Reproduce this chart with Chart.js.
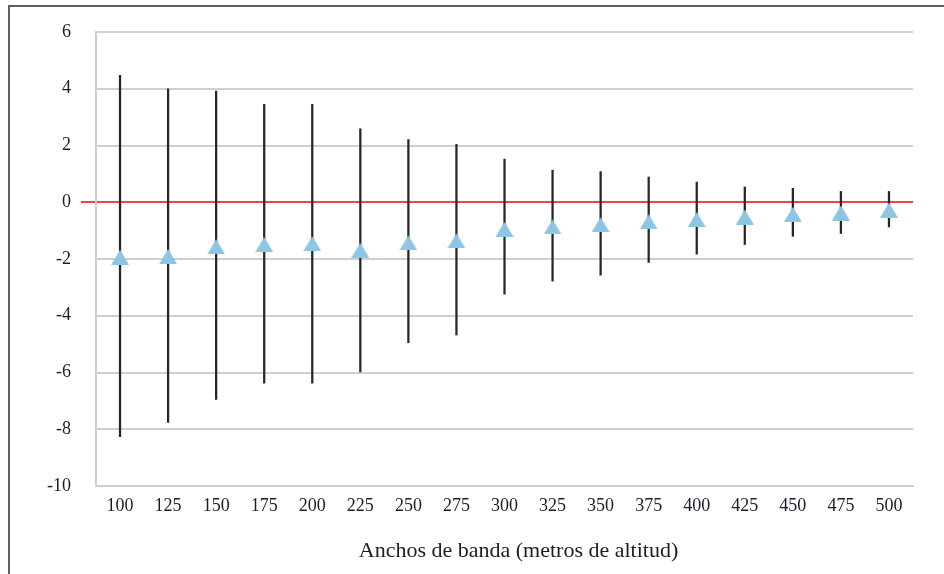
<!DOCTYPE html>
<html>
<head>
<meta charset="utf-8">
<script src="https://cdn.jsdelivr.net/npm/chart.js@4/dist/chart.umd.min.js"></script>
<style>
  html, body { margin: 0; padding: 0; background: #fff; overflow: hidden; }
  #wrap { position: relative; width: 944px; height: 574px; }
  #frame { position: absolute; left: 8px; top: 5px; width: 2000px; height: 2000px;
           border-left: 2px solid #5e5e5e; border-top: 2px solid #5e5e5e; pointer-events: none; }
</style>
</head>
<body>
<div id="wrap">
  <canvas id="c" width="944" height="574"></canvas>
  <div id="frame"></div>
</div>
<script>
const categories = ['100','125','150','175','200','225','250','275','300','325','350','375','400','425','450','475','500'];
const meanValues = [-1.94, -1.91, -1.57, -1.49, -1.46, -1.69, -1.43, -1.36, -0.95, -0.87, -0.79, -0.69, -0.61, -0.52, -0.43, -0.38, -0.28];
const upperValues = [4.47, 4.00, 3.92, 3.45, 3.45, 2.59, 2.21, 2.04, 1.52, 1.13, 1.08, 0.89, 0.71, 0.54, 0.49, 0.38, 0.38];
const lowerValues = [-8.26, -7.76, -6.95, -6.38, -6.38, -5.98, -4.95, -4.68, -3.24, -2.78, -2.57, -2.12, -1.83, -1.49, -1.20, -1.10, -0.87];
const yTicks = { min: -10, max: 6, step: 2 };
const xTitle = 'Anchos de banda (metros de altitud)';

const FONT = "'Liberation Serif', 'DejaVu Serif', serif";
const TEXT = '#1c1c28';
const rangeData = lowerValues.map((lo, i) => [lo, upperValues[i]]);

// triangle marker centred on its bounding box
const tri = document.createElement('canvas');
tri.width = 18; tri.height = 15;
(function () {
  const g = tri.getContext('2d');
  g.fillStyle = '#8ec5e3';
  g.beginPath();
  g.moveTo(9, 0); g.lineTo(18, 15); g.lineTo(0, 15); g.closePath();
  g.fill();
})();

const xTitlePlugin = {
  id: 'xTitlePlugin',
  afterDraw(chart) {
    const g = chart.ctx;
    g.save();
    g.font = '22px ' + FONT;
    g.fillStyle = TEXT;
    g.textAlign = 'center';
    g.textBaseline = 'middle';
    g.fillText(xTitle, chart.chartArea.left + (chart.chartArea.right - chart.chartArea.left) / 2 + 14, 551);
    g.restore();
  }
};

new Chart(document.getElementById('c'), {
  data: {
    labels: categories,
    datasets: [
      {
        type: 'line',
        data: meanValues,
        showLine: false,
        pointStyle: tri,
        pointRadius: 9,
        pointHoverRadius: 9,
        order: 0
      },
      {
        type: 'bar',
        data: rangeData,
        backgroundColor: '#262626',
        borderWidth: 0,
        barThickness: 1.6,
        grouped: false,
        order: 1
      }
    ]
  },
  plugins: [xTitlePlugin],
  options: {
    responsive: false,
    animation: false,
    events: [],
    layout: { padding: { left: 0, right: 31, top: 32, bottom: 0 } },
    plugins: { legend: { display: false }, tooltip: { enabled: false } },
    scales: {
      x: {
        type: 'category',
        offset: true,
        grid: { display: false, drawTicks: false },
        border: { display: true, color: '#cfcfcf', width: 2 },
        ticks: { color: TEXT, font: { family: FONT, size: 18 }, padding: 9, maxRotation: 0, autoSkip: false },
        afterFit: (s) => { s.height = 88; }
      },
      y: {
        min: yTicks.min,
        max: yTicks.max,
        ticks: { stepSize: yTicks.step, color: TEXT, font: { family: FONT, size: 18 }, padding: 10 },
        grid: {
          color: (ctx) => ctx.tick && ctx.tick.value === 0 ? '#e8484a' : '#cfcfcf',
          lineWidth: 2,
          tickLength: 15,
          tickColor: (ctx) => ctx.tick && ctx.tick.value === 0 ? '#e8484a' : 'rgba(0,0,0,0)',
          tickWidth: 2
        },
        border: { display: true, color: '#cfcfcf', width: 2 },
        afterFit: (s) => { s.width = 96; }
      }
    }
  }
});
</script>
</body>
</html>
